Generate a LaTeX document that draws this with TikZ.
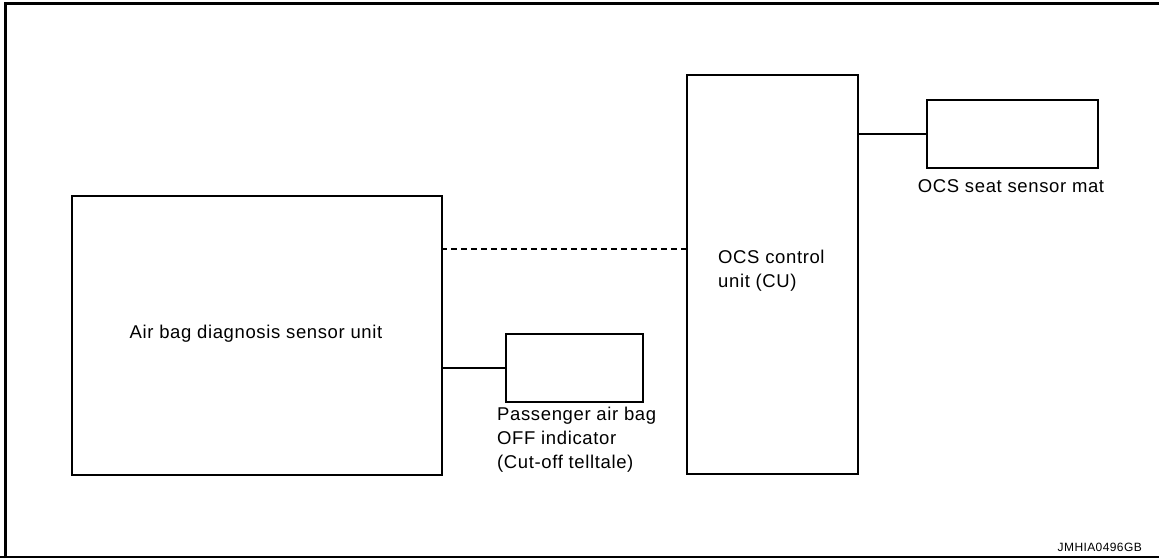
\documentclass[tikz,border=0pt]{standalone}
\usepackage{fontspec}
\setmainfont{Liberation Sans}
\newfontfamily\lblfont[LetterSpace=3.4]{Liberation Sans}
\usetikzlibrary{positioning,calc}
\tikzset{
  blk/.style={draw=black,fill=white,line width=1.7pt,inner sep=0pt,anchor=north west},
  link/.style={draw=black,line width=1.3pt},
  lbl/.style={inner sep=0pt,font=\lblfont\fontsize{18.5}{24}\selectfont,align=left},
}
\begin{document}
\begin{tikzpicture}[x=1pt,y=-1pt]
\useasboundingbox (0,0) rectangle (1159,558);
\draw[line width=3pt] (5.5,558) -- (5.5,3) -- (1159,3);
\draw[line width=1.5pt] (0,557) -- (1159,557);
\node[blk,minimum width=370pt,minimum height=279pt] (diag) at (71,195) {};
\node[blk,minimum width=171pt,minimum height=399pt] (cu) at (686,74) {};
\node[blk,minimum width=171pt,minimum height=68pt] (mat) at (926,99) {};
\node[blk,minimum width=137pt,minimum height=68pt] (ind) at (505,333) {};
\coordinate (dl) at (441,249);
\draw[link,dash pattern=on 6pt off 4pt] (dl) -- (dl -| cu.west);
\draw[link] (diag.east |- ind.west) -- (ind.west);
\draw[link] (cu.east |- mat.west) -- (mat.west);
% base anchor of a multi-line label sits on its last line
\node[lbl,anchor=base] (diagtxt) at (256,338) {Air bag diagnosis sensor unit};
\node[lbl,anchor=base west] (cutxt) at (718,287) {OCS control\\unit (CU)};
\node[lbl,anchor=base] (mattxt) at (1011,192) {OCS seat sensor mat};
\node[lbl,anchor=base west] (indtxt) at (497,468) {Passenger air bag\\OFF indicator\\(Cut-off telltale)};
\node[inner sep=0pt,font=\lblfont\fontsize{12}{14}\selectfont,anchor=base east] (code) at (1142,551) {JMHIA0496GB};
\end{tikzpicture}
\end{document}
